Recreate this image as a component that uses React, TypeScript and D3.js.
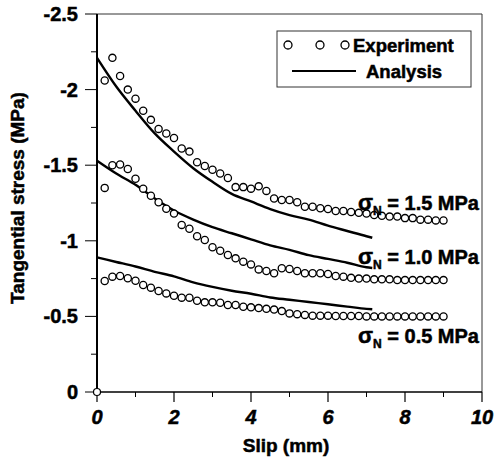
import React from "react";
import * as d3 from "d3";

const W = 495;
const H = 459;

const expX = [0.2,0.4,0.6,0.8,1.0,1.2,1.4,1.6,1.8,2.0,2.2,2.4,2.6,2.8,3.0,3.2,3.4,3.6,3.8,4.0,4.2,4.4,4.6,4.8,5.0,5.2,5.4,5.6,5.8,6.0,6.2,6.4,6.6,6.8,7.0,7.2,7.4,7.6,7.8,8.0,8.2,8.4,8.6,8.8,9.0];
const exp15 = [-2.06,-2.21,-2.09,-2.0,-1.94,-1.86,-1.8,-1.74,-1.71,-1.68,-1.61,-1.59,-1.52,-1.495,-1.47,-1.445,-1.415,-1.355,-1.355,-1.345,-1.36,-1.33,-1.28,-1.27,-1.27,-1.255,-1.225,-1.225,-1.215,-1.21,-1.197,-1.197,-1.19,-1.185,-1.18,-1.17,-1.165,-1.16,-1.16,-1.15,-1.15,-1.14,-1.14,-1.135,-1.135];
const exp10 = [-1.35,-1.5,-1.505,-1.475,-1.41,-1.345,-1.298,-1.255,-1.212,-1.18,-1.105,-1.08,-1.03,-1.005,-0.957,-0.934,-0.906,-0.884,-0.862,-0.844,-0.811,-0.8,-0.785,-0.818,-0.813,-0.8,-0.785,-0.785,-0.785,-0.78,-0.767,-0.763,-0.755,-0.75,-0.75,-0.745,-0.745,-0.745,-0.74,-0.74,-0.74,-0.74,-0.74,-0.74,-0.74];
const exp05 = [-0.734,-0.763,-0.767,-0.752,-0.736,-0.708,-0.69,-0.668,-0.652,-0.637,-0.624,-0.624,-0.604,-0.593,-0.593,-0.59,-0.575,-0.575,-0.564,-0.56,-0.555,-0.55,-0.545,-0.535,-0.52,-0.515,-0.51,-0.505,-0.505,-0.505,-0.503,-0.503,-0.503,-0.503,-0.5,-0.5,-0.5,-0.5,-0.5,-0.5,-0.5,-0.5,-0.5,-0.5,-0.5];

const anaX = [0,0.5,1.0,1.5,2.0,2.5,3.0,3.5,4.0,4.5,5.0,5.5,6.0,6.5,7.0,7.15];
const ana15 = [-2.21,-2.02,-1.86,-1.71,-1.59,-1.48,-1.39,-1.31,-1.26,-1.21,-1.17,-1.14,-1.1,-1.065,-1.03,-1.02];
const ana10 = [-1.53,-1.445,-1.37,-1.28,-1.2,-1.14,-1.09,-1.05,-1.01,-0.97,-0.94,-0.905,-0.88,-0.855,-0.825,-0.82];
const ana05 = [-0.89,-0.86,-0.83,-0.795,-0.765,-0.725,-0.695,-0.67,-0.65,-0.625,-0.61,-0.595,-0.58,-0.565,-0.55,-0.547];

const xTicks = [0, 2, 4, 6, 8, 10];
const xMinor = [1, 3, 5, 7, 9];
const yTicks = [0, -0.5, -1, -1.5, -2, -2.5];
const yTickLabels = ["0", "-0.5", "-1", "-1.5", "-2", "-2.5"];
const yMinor = [-0.25, -0.75, -1.25, -1.75, -2.25];
const seriesLabels = ["1.5 MPa", "1.0 MPa", "0.5 MPa"];
const seriesLabelY = [-1.25, -0.89, -0.37];

const FONT = "'Liberation Sans', Arial, sans-serif";

export default function App() {
  const x = d3.scaleLinear().domain([0, 10]).range([97, 482]);
  const y = d3.scaleLinear().domain([0, -2.5]).range([392, 14]);
  const line = d3
    .line<[number, number]>()
    .x((d) => x(d[0]))
    .y((d) => y(d[1]))
    .curve(d3.curveMonotoneX);

  const expSeries = [exp15, exp10, exp05];
  const anaSeries = [ana15, ana10, ana05];
  const heavy = { stroke: "#000", strokeWidth: 0.5 } as const;

  return (
    <svg
      width={W}
      height={H}
      style={{ position: "absolute", left: 0, top: 0, background: "#fff" }}
      fontFamily={FONT}
    >
      <rect x={0} y={0} width={W} height={H} fill="#fff" />
      {/* frame */}
      <line x1={x(0)} x2={x(10)} y1={y(-2.5)} y2={y(-2.5)} stroke="#333" strokeWidth={1} />
      <line x1={x(10)} x2={x(10)} y1={y(-2.5)} y2={y(0)} stroke="#333" strokeWidth={1} />
      <line x1={x(0)} x2={x(10)} y1={y(0)} y2={y(0)} stroke="#000" strokeWidth={1.3} />
      <line x1={x(0)} x2={x(0)} y1={y(-2.5)} y2={y(0)} stroke="#000" strokeWidth={2} />

      {/* x ticks */}
      {xTicks.map((t) => (
        <g key={"xt" + t}>
          <line x1={x(t)} x2={x(t)} y1={y(0)} y2={y(0) + 10} stroke="#000" strokeWidth={1.2} />
          <text
            x={x(t)}
            y={y(0) + 32}
            textAnchor="middle"
            fontSize={20}
            fontStyle="italic"
            fontWeight="bold"
            {...heavy}
          >
            {t}
          </text>
        </g>
      ))}
      {xMinor.map((t) => (
        <line key={"xm" + t} x1={x(t)} x2={x(t)} y1={y(0)} y2={y(0) + 5} stroke="#000" strokeWidth={1} />
      ))}

      {/* y ticks */}
      {yTicks.map((t, i) => (
        <g key={"yt" + t}>
          <line x1={x(0) - 12} x2={x(0)} y1={y(t)} y2={y(t)} stroke="#000" strokeWidth={1} />
          <text x={78} y={y(t) + 7} textAnchor="end" fontSize={20} fontWeight="bold" {...heavy}>
            {yTickLabels[i]}
          </text>
        </g>
      ))}
      {yMinor.map((t) => (
        <line key={"ym" + t} x1={x(0) - 6} x2={x(0)} y1={y(t)} y2={y(t)} stroke="#000" strokeWidth={1} />
      ))}

      {/* axis titles */}
      <text
        transform={`translate(24, 198) rotate(-90)`}
        textAnchor="middle"
        fontSize={19}
        fontWeight="bold"
        {...heavy}
      >
        Tangential stress (MPa)
      </text>
      <text x={286} y={452} textAnchor="middle" fontSize={19} fontWeight="bold" {...heavy}>
        Slip (mm)
      </text>

      {/* analysis lines */}
      {anaSeries.map((s, k) => (
        <path
          key={"a" + k}
          d={line(anaX.map((v, i) => [v, s[i]] as [number, number])) || ""}
          fill="none"
          stroke="#000"
          strokeWidth={2.4}
        />
      ))}

      {/* experiment points */}
      <circle cx={x(0)} cy={y(0)} r={3.5} fill="#fff" stroke="#000" strokeWidth={1.2} />
      {expSeries.map((s, k) =>
        s.map((v, i) => (
          <circle
            key={`e${k}-${i}`}
            cx={x(expX[i])}
            cy={y(v)}
            r={3.6}
            fill="#fff"
            stroke="#000"
            strokeWidth={1.3}
          />
        ))
      )}

      {/* series labels */}
      {seriesLabels.map((lab, k) => (
        <text key={"sl" + k} x={479} y={y(seriesLabelY[k]) + 7} textAnchor="end" fontSize={20} fontWeight="bold" {...heavy}>
          <tspan fontSize={22}>σ</tspan>
          <tspan fontSize={12} dy={5}>N</tspan>
          <tspan dy={-5}>{" = " + lab}</tspan>
        </text>
      ))}

      {/* legend */}
      <rect x={277} y={31} width={194} height={56} fill="#fff" stroke="#333" strokeWidth={1} />
      {[288, 320, 345].map((cx) => (
        <circle key={"lc" + cx} cx={cx} cy={45} r={4} fill="#fff" stroke="#000" strokeWidth={1.3} />
      ))}
      <text x={353} y={52} fontSize={18.5} fontWeight="bold" {...heavy}>
        Experiment
      </text>
      <line x1={292} x2={356} y1={71} y2={71} stroke="#000" strokeWidth={2} />
      <text x={366} y={78} fontSize={18.5} fontWeight="bold" {...heavy}>
        Analysis
      </text>
    </svg>
  );
}
